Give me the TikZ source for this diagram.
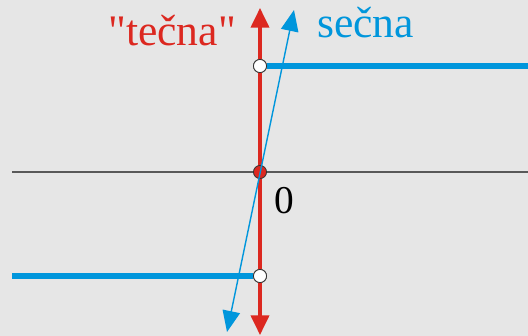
\documentclass[tikz,border=0pt]{standalone}
\usepackage{fontspec}
\setmainfont{Liberation Serif}
\newfontfamily\plainserif{Liberation Serif}[Ligatures=TeXOff]
\definecolor{mygray}{HTML}{E6E6E6}
\definecolor{myred}{HTML}{DC2820}
\definecolor{myblue}{HTML}{0096DC}
\usetikzlibrary{arrows.meta, positioning}
\tikzset{
	redtext/.style={font=\plainserif\fontsize{31}{31}\selectfont\color{myred}, inner sep=0pt}
}
\tikzset{
	bluetext/.style={font=\fontsize{31}{31}\selectfont\color{myblue}, inner sep=0pt}
}
\tikzset{
	opendot/.style={circle, draw=black!80, fill=white, line width=0.6pt, inner sep=0pt, minimum size=9.3pt}
}

\begin{document}
\begin{tikzpicture}[x=0.025cm, y=-0.025cm]

			\fill[mygray] (0,0) rectangle (528,336);
			\useasboundingbox (0,0) rectangle (528,336);

			\begin{scope}
				\coordinate (axL) at (12,172);
				\coordinate (axR) at (528,172);
				\coordinate (tT) at (260,8);
				\coordinate (tB) at (260,335);
				\coordinate (sT) at (294,10);
				\coordinate (sB) at (227,332);
				\coordinate (upR) at (528,66);
				\coordinate (loL) at (12,276);
			\end{scope}

			\draw[black!65, line width=1pt] (axL) -- (axR);

			\node[opendot] (up) at (260,66) {};
			\node[opendot] (lo) at (260,276) {};

			\draw[myblue, line width=4.3pt] (up.east) -- (upR);
			\draw[myblue, line width=4.3pt] (loL) -- (lo.west);

			\draw[myred, line width=2.2pt, {Triangle[length=14pt, width=13pt]}-{Triangle[length=14pt, width=13pt]}] (tB) -- (tT);

			\node[opendot] at (up) {};
			\node[opendot] at (lo) {};
			\node[opendot, fill=myred] (o) at (260,172) {};

			\draw[myblue, line width=1pt, {Triangle[length=15pt, width=12.5pt]}-{Triangle[length=15pt, width=12.5pt]}] (sB) -- (sT);

			\node[redtext, anchor=base west] (tecna) at (108,45) {"tečna"};
			\node[bluetext, anchor=base west] (secna) at (317,37) {sečna};
			\node[font=\fontsize{28}{28}\selectfont, inner sep=0pt, anchor=base] (zero) at (284,213) {0};

		\end{tikzpicture}
\end{document}
